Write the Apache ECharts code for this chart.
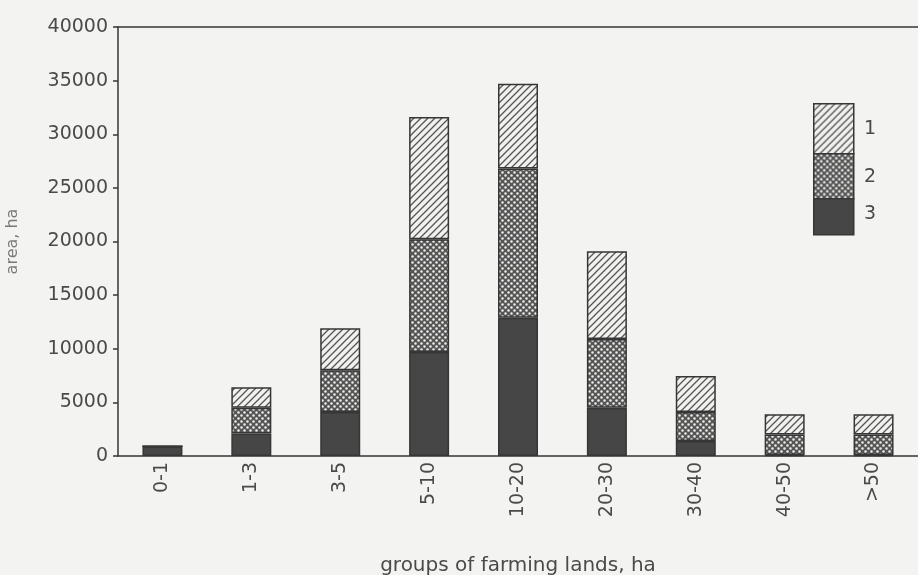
<!DOCTYPE html>
<html>
<head>
<meta charset="utf-8">
<script src="https://cdn.jsdelivr.net/npm/echarts@6/dist/echarts.min.js"></script>
<style>
  html, body { margin: 0; padding: 0; background: #f3f3f1; }
  #chart { width: 918px; height: 575px; }
</style>
</head>
<body>
<div id="chart"></div>
<script>
// groups of farming lands, ha
const categories = ['0-1', '1-3', '3-5', '5-10', '10-20', '20-30', '30-40', '40-50', '>50']
// area, ha (stacked: 3 at bottom, 2 middle, 1 top)
const series3 = [900, 2100, 4100, 9700, 12900, 4500, 1400, 100, 100]
const series2 = [0, 2400, 3900, 10500, 13900, 6400, 2700, 1900, 1900]
const series1 = [0, 1900, 3900, 11400, 7900, 8200, 3350, 1900, 1900]
const yTicks = { min: 0, max: 40000, interval: 5000 }

const ink = '#363636'
const textColor = '#4a4a4a'
const font = 'DejaVu Sans'

// diagonal hatching "/"
function hatchPattern() {
  const s = 7
  const c = document.createElement('canvas')
  c.width = s; c.height = s
  const g = c.getContext('2d')
  g.fillStyle = '#f1f1ef'
  g.fillRect(0, 0, s, s)
  g.strokeStyle = '#555555'
  g.lineWidth = 1.3
  g.beginPath()
  g.moveTo(-s, s); g.lineTo(s, -s)
  g.moveTo(0, s); g.lineTo(s, 0)
  g.moveTo(0, 2 * s); g.lineTo(2 * s, 0)
  g.stroke()
  return c
}

// dark field with white dots
function dotPattern() {
  const s = 6
  const c = document.createElement('canvas')
  c.width = s; c.height = s
  const g = c.getContext('2d')
  g.fillStyle = '#555555'
  g.fillRect(0, 0, s, s)
  g.fillStyle = '#eeeeec'
  g.beginPath()
  g.arc(1.5, 1.5, 1.3, 0, Math.PI * 2)
  g.arc(4.5, 4.5, 1.3, 0, Math.PI * 2)
  g.fill()
  return c
}

const hatchFill = { image: hatchPattern(), repeat: 'repeat' }
const dotFill = { image: dotPattern(), repeat: 'repeat' }
const darkFill = '#464646'

function barSeries(name, data, fill) {
  return {
    name: name,
    type: 'bar',
    stack: 'total',
    xAxisIndex: 0,
    barWidth: 40,
    data: data,
    itemStyle: { color: fill, borderColor: ink, borderWidth: 1.5 },
    emphasis: { disabled: true }
  }
}

const chart = echarts.init(document.getElementById('chart'))

chart.setOption({
  backgroundColor: '#f3f3f1',
  animation: false,
  textStyle: { fontFamily: font },
  grid: { left: 118, right: 0, top: 27, bottom: 119, outerBoundsMode: 'none', containLabel: false },
  xAxis: [
    {
      type: 'category',
      data: categories,
      name: 'groups of farming lands, ha',
      nameLocation: 'middle',
      nameGap: 100,
      nameTextStyle: { color: textColor, fontSize: 20, fontFamily: font },
      axisLine: { lineStyle: { color: ink, width: 1.5 } },
      axisTick: { show: false },
      axisLabel: { rotate: 90, color: textColor, fontSize: 19, margin: 6, fontFamily: font }
    },
    {
      // top frame line
      type: 'category',
      data: categories,
      position: 'top',
      axisLine: { lineStyle: { color: ink, width: 1.5 } },
      axisTick: { show: false },
      axisLabel: { show: false }
    }
  ],
  yAxis: {
    type: 'value',
    min: yTicks.min,
    max: yTicks.max,
    interval: yTicks.interval,
    name: 'area, ha',
    nameLocation: 'middle',
    nameRotate: 90,
    nameGap: 97,
    nameTextStyle: { color: '#7a7a7a', fontSize: 16, fontFamily: font },
    axisLine: { show: true, lineStyle: { color: ink, width: 1.5 } },
    axisTick: { show: true, length: 5, lineStyle: { color: ink, width: 1.5 } },
    axisLabel: { color: textColor, fontSize: 19, margin: 10, fontFamily: font, formatter: v => String(v) },
    splitLine: { show: false }
  },
  series: [
    barSeries('3', series3, darkFill),
    barSeries('2', series2, dotFill),
    barSeries('1', series1, hatchFill)
  ],
  graphic: [
    // legend swatch column
    { type: 'rect', left: 813, top: 103, shape: { width: 40, height: 50 }, style: { fill: hatchFill, stroke: ink, lineWidth: 1.5 } },
    { type: 'rect', left: 813, top: 153, shape: { width: 40, height: 45 }, style: { fill: dotFill, stroke: ink, lineWidth: 1.5 } },
    { type: 'rect', left: 813, top: 198, shape: { width: 40, height: 36 }, style: { fill: darkFill, stroke: ink, lineWidth: 1.5 } },
    { type: 'text', left: 864, top: 120, style: { text: '1', fill: textColor, font: '19px DejaVu Sans' } },
    { type: 'text', left: 864, top: 168, style: { text: '2', fill: textColor, font: '19px DejaVu Sans' } },
    { type: 'text', left: 864, top: 205, style: { text: '3', fill: textColor, font: '19px DejaVu Sans' } }
  ]
})
</script>
</body>
</html>
